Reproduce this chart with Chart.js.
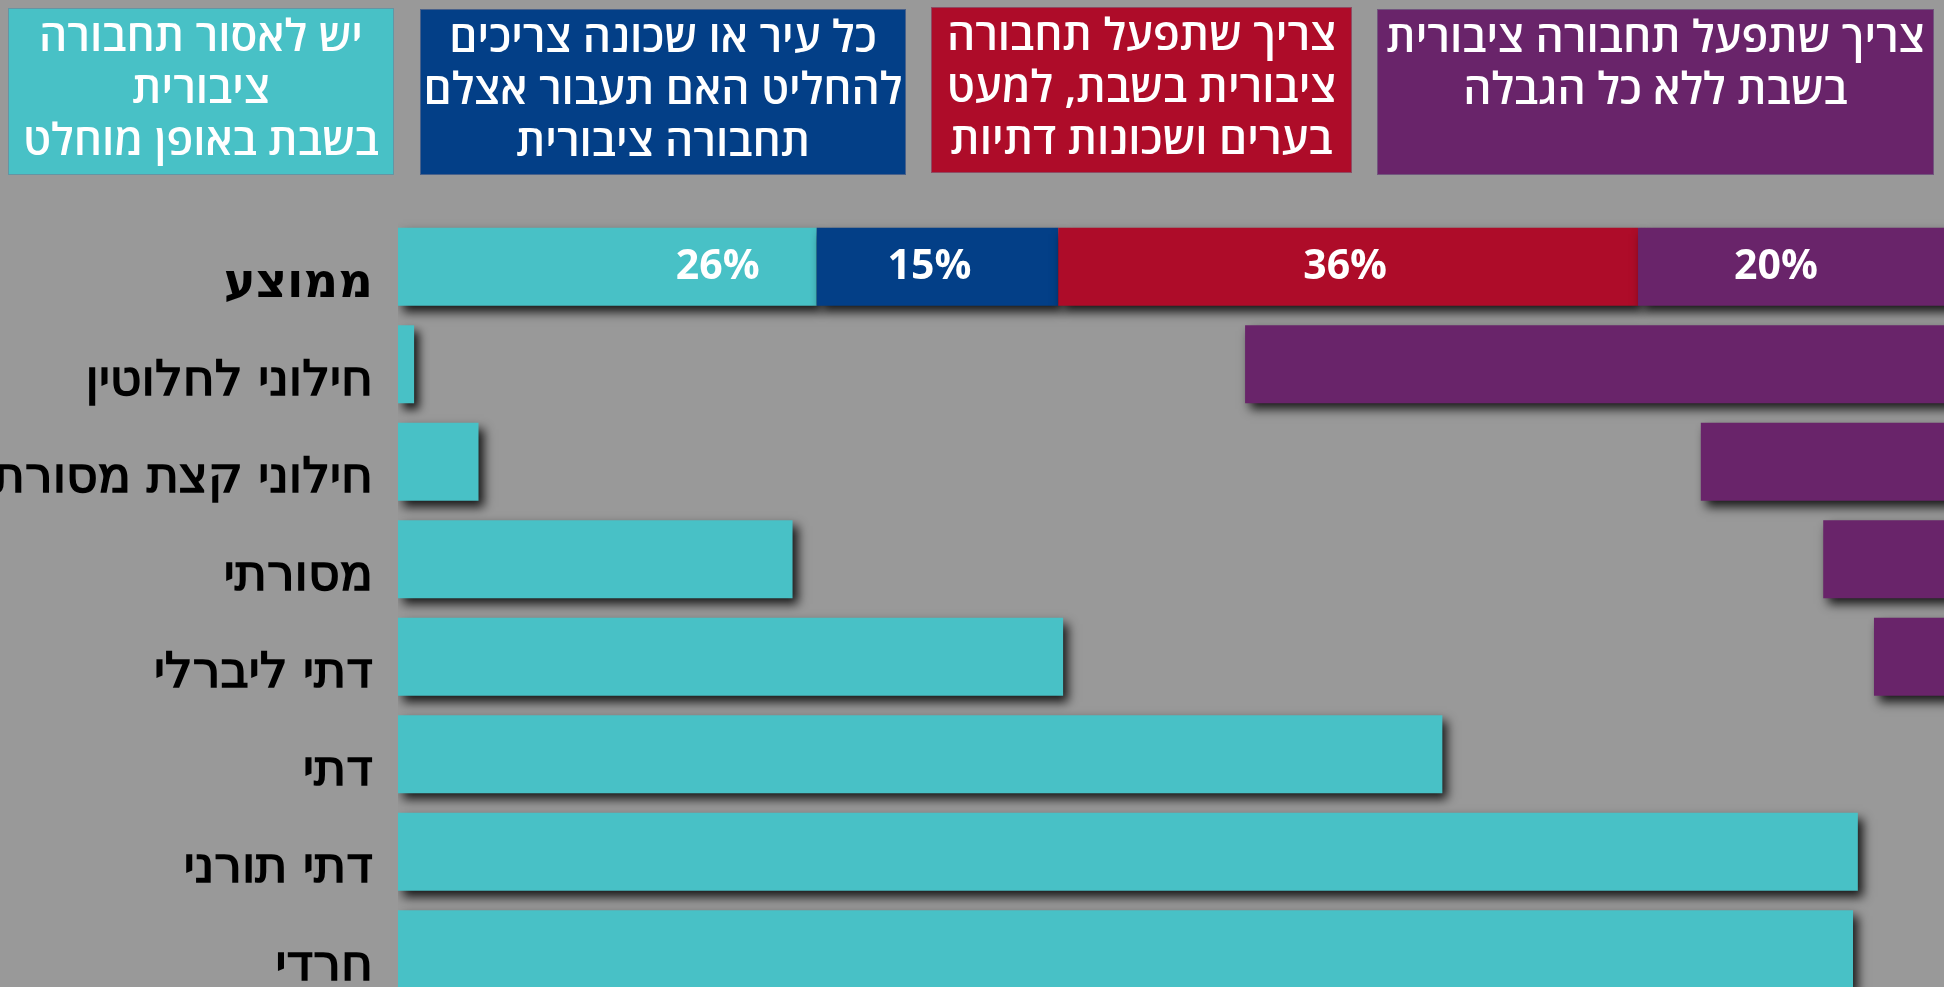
<!DOCTYPE html>
<html>
<head>
<meta charset="utf-8">
<script src="https://cdn.jsdelivr.net/npm/chart.js@4.4.0/dist/chart.umd.min.js"></script>
<style>
  html, body { margin: 0; padding: 0; background: #999999; overflow: hidden; width: 1944px; height: 987px; }
  #chart-canvas { position: absolute; left: 0; top: 0; }
  .box {
    position: absolute; box-sizing: border-box; color: #fff; direction: rtl; text-align: center;
    font-family: 'Open Sans', 'DejaVu Sans'; font-weight: 600;
    font-size: 44px; line-height: 52px; padding-top: 0; border: 1px solid rgba(120,120,140,0.6);
    white-space: pre;
  }
  .box span { display: block; position: relative; top: -1px; }
</style>
</head>
<body>
<canvas id="chart-canvas" width="1944" height="998"></canvas>
<script>
// rows, top to bottom
const categories = ['ממוצע', 'חילוני לחלוטין', 'חילוני קצת מסורת', 'מסורתי', 'דתי ליברלי', 'דתי', 'דתי תורני', 'חרדי'];

const seriesNames = [
  'יש לאסור תחבורה\nציבורית\nבשבת באופן מוחלט',
  'כל עיר או שכונה צריכים\nלהחליט האם תעבור אצלם\nתחבורה ציבורית',
  'צריך שתפעל תחבורה\nציבורית בשבת, למעט\nבערים ושכונות דתיות',
  'צריך שתפעל תחבורה ציבורית\nבשבת ללא כל הגבלה'
];
const seriesColors = ['#48c1c6', '#033f87', '#ae0c29', '#69246a'];

// values in %
const banAlways = [26, 1, 5, 24.5, 41.3, 64.85, 90.65, 90.35];
const localDecision = [15, null, null, null, null, null, null, null];
const exceptReligious = [36, null, null, null, null, null, null, null];
const noRestriction = [20, 44.4, 16.1, 8.5, 5.35, 0, 0, 0];
const rowTotal = 97;
const avgLabels = ['26%', '15%', '36%', '20%'];

// legend boxes on top
const boxLayout = [
  { l: 8, t: 8, w: 386, h: 167 },
  { l: 420, t: 9, w: 486, h: 166 },
  { l: 931, t: 7, w: 421, h: 166 },
  { l: 1377, t: 9, w: 557, h: 166 }
];
seriesNames.forEach((name, i) => {
  const b = boxLayout[i];
  const div = document.createElement('div');
  div.className = 'box';
  div.style.left = b.l + 'px';
  div.style.top = b.t + 'px';
  div.style.width = b.w + 'px';
  div.style.height = b.h + 'px';
  div.style.background = seriesColors[i];
  const span = document.createElement('span');
  span.textContent = name;
  div.appendChild(span);
  document.body.appendChild(div);
});

const blueData = localDecision.map((v, i) => v == null ? null : [banAlways[i], banAlways[i] + v]);
const redData = exceptReligious.map((v, i) => v == null ? null : [banAlways[i] + localDecision[i], banAlways[i] + localDecision[i] + v]);
const purpleData = noRestriction.map(v => v ? [rowTotal - v, rowTotal] : null);

const shadowPlugin = {
  id: 'barShadow',
  beforeDatasetsDraw(chart) {
    const c = chart.ctx;
    c.save();
    c.shadowColor = 'rgba(0,0,0,0.85)';
    c.shadowBlur = 10;
    c.shadowOffsetX = 5;
    c.shadowOffsetY = 6;
  },
  afterDatasetsDraw(chart) {
    chart.ctx.restore();
  }
};

const labelAnchor = ['end', 'center', 'center', 'center'];
const labelShift = [-99, -8, -3, -15];
const avgLabelPlugin = {
  id: 'avgLabels',
  afterDatasetsDraw(chart) {
    const c = chart.ctx;
    const area = chart.chartArea;
    c.save();
    c.fillStyle = '#fff';
    c.font = "bold 41px 'Open Sans', 'DejaVu Sans'";
    c.textAlign = 'center';
    c.textBaseline = 'middle';
    avgLabels.forEach((txt, d) => {
      const el = chart.getDatasetMeta(d).data[0];
      const end = Math.min(el.x, area.right);
      let x = labelAnchor[d] === 'end' ? end : (end + el.base) / 2;
      c.fillText(txt, x + labelShift[d], el.y + 1);
    });
    c.restore();
  }
};

const chartCtx = document.getElementById('chart-canvas');

const barChart = new Chart(chartCtx, {
  type: 'bar',
  data: {
    labels: categories,
    datasets: [
      { label: seriesNames[0], data: banAlways, backgroundColor: seriesColors[0], order: 3 },
      { label: seriesNames[1], data: blueData, backgroundColor: seriesColors[1], order: 2 },
      { label: seriesNames[2], data: redData, backgroundColor: seriesColors[2], order: 1 },
      { label: seriesNames[3], data: purpleData, backgroundColor: seriesColors[3], order: 0 }
    ]
  },
  options: {
    indexAxis: 'y',
    responsive: false,
    animation: false,
    layout: { padding: { top: 218, right: 0, bottom: 0, left: 0 } },
    datasets: {
      bar: { grouped: false, categoryPercentage: 0.8, barPercentage: 1, borderWidth: 0 }
    },
    plugins: {
      legend: { display: false },
      tooltip: { enabled: false }
    },
    scales: {
      x: { display: false, min: 0, max: 96 },
      y: {
        afterFit: (scale) => {
          scale.width = 398;
          scale.paddingTop = 0;
          scale.paddingBottom = 0;
        },
        grid: { display: false, drawTicks: false },
        border: { display: false },
        ticks: {
          color: '#000',
          padding: 25,
          labelOffset: 18,
          textStrokeColor: '#000',
          textStrokeWidth: (c) => c.index === 0 ? 0 : 1.6,
          font: (c) => c.index === 0
            ? { family: "'DejaVu Sans'", weight: 'bold', size: 48 }
            : { family: "'DejaVu Sans'", weight: 'normal', size: 49 }
        }
      }
    }
  },
  plugins: [shadowPlugin, avgLabelPlugin]
});
</script>
</body>
</html>
